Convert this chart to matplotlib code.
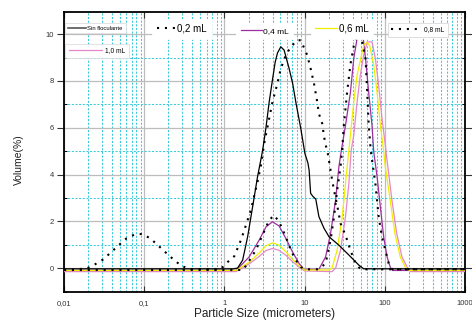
import matplotlib
matplotlib.use("Agg")
import matplotlib.pyplot as plt
from matplotlib.ticker import LogLocator, FixedLocator, FixedFormatter, MultipleLocator, NullFormatter
from matplotlib.lines import Line2D

plt.rcParams['font.family'] = ['Liberation Sans', 'DejaVu Sans']

# particle size distributions (micrometers, volume %)
sin_x = [0.01, 1.3, 1.46, 1.69, 1.95, 2.25, 2.59, 2.99, 3.3, 3.62, 4.0, 4.3, 4.6, 5.06, 5.56,
         6.42, 7.1, 7.78, 8.97, 10.1, 11.0, 11.4, 11.9, 12.6, 13.8, 15.1, 17.5, 20.2, 26.8,
         35.7, 47.5, 54.6, 1000]
sin_y = [-0.03, -0.03, 0.0, 0.34, 1.34, 2.62, 3.9, 5.0, 6.0, 7.1, 8.1, 8.8, 9.2, 9.46, 9.32,
         8.53, 7.9, 7.1, 5.97, 4.9, 4.5, 4.19, 3.2, 3.08, 2.95, 2.2, 1.7, 1.34, 0.98,
         0.56, 0.13, -0.03, -0.03]

ml02_x = [0.01, 0.0191, 0.0243, 0.0308, 0.0384, 0.0482, 0.0601, 0.0762, 0.095, 0.119, 0.148,
          0.185, 0.232, 0.29, 0.367, 0.9, 1.05, 1.33, 1.61, 1.86, 2.14, 2.59, 2.86, 3.14, 3.55,
          3.98, 4.59, 5.06, 5.84, 6.74, 8.1, 8.97, 10.8, 11.9, 13.1, 14.4, 15.1, 16.6, 17.4,
          18.3, 19.2, 22.1, 23.3, 25.5, 28.1, 32.4, 37.3, 43.3, 50, 1000]
ml02_y = [-0.08, -0.02, 0.16, 0.37, 0.67, 0.98, 1.27, 1.44, 1.46, 1.27, 0.98,
          0.67, 0.37, 0.1, -0.04, -0.05, 0.2, 0.51, 1.2, 1.84, 2.48, 3.69, 4.4, 5.33, 6.25,
          7.1, 7.9, 8.53, 9.1, 9.46, 9.74, 9.74, 9.1, 8.53, 7.9, 7.1, 6.6, 6.18, 5.68,
          5.26, 5.04, 3.76, 3.33, 2.69, 1.91, 1.41, 0.77, 0.2, -0.05, -0.05]

ml04_x = [0.01, 1.4, 2.04, 2.72, 3.3, 3.98, 4.82, 5.84, 7.06, 8.55, 9.8, 15.1, 18.3, 21.1,
          24.4, 26.8, 28.8, 32.4, 37.3, 41.1, 45.2, 49.5, 53.4, 57.6, 63.1, 69.4, 72.9, 80.3,
          88.3, 97.3, 107, 117, 125, 1000]
ml04_y = [-0.1, -0.1, 0.48, 1.2, 1.76, 1.98, 1.8, 1.27, 0.7, 0.2, -0.05, -0.05, 0.48, 1.48,
          2.9, 4.33, 5.04, 6.1, 7.5, 8.96, 9.82, 10.03, 9.96, 8.96, 7.5, 6.1, 4.97, 3.9,
          2.6, 1.3, 0.48, 0.05, -0.1, -0.1]

ml06_x = [0.01, 1.4, 2.04, 2.72, 3.3, 3.98, 4.82, 5.84, 7.06, 8.55, 10, 20, 22, 25.5, 29.5,
          32.4, 35.7, 37.3, 41.1, 45.2, 51.3, 55, 60, 65, 72.9, 80.3, 88.3, 97.3, 101.7, 117,
          134, 156, 180, 200, 1000]
ml06_y = [-0.1, -0.1, 0.25, 0.65, 0.95, 1.08, 0.98, 0.7, 0.38, 0.1, -0.08, -0.08, 0.0, 0.77, 2.19,
          3.62, 5.04, 5.68, 7.1, 8.25, 9.1, 9.55, 9.65, 9.5, 8.68, 7.5, 6.1, 4.97, 4.33, 2.9,
          1.48, 0.48, 0.05, -0.1, -0.1]

ml08_x = [0.01, 1.7, 1.95, 2.47, 2.99, 3.62, 4.17, 4.82, 5.84, 6.74, 7.78, 8.97, 10, 15, 18.3,
          21.1, 23.3, 25.5, 28.1, 29.5, 30.9, 33.9, 37.3, 41.1, 45.2, 50, 57.6, 60.5, 63.1, 67,
          76.4, 84, 92.4, 101.7, 112, 125, 1000]
ml08_y = [-0.08, -0.08, 0.2, 0.77, 1.41, 2.05, 2.26, 1.98, 1.34, 0.77, 0.34, 0.05, -0.05, -0.05, 0.2,
          1.2, 2.19, 3.33, 4.33, 5.1, 6.1, 7.5, 8.7, 9.5, 9.9, 10.0, 8.96, 7.5, 6.1, 5.0,
          3.62, 2.19, 1.34, 0.77, 0.2, -0.05, -0.05]

ml10_x = [0.01, 1.4, 2.04, 2.72, 3.3, 3.98, 4.82, 5.84, 7.06, 8.55, 10, 22, 24.4, 28.1, 32.4,
          35.7, 38.2, 41.1, 45.2, 49.6, 54.6, 60.5, 69.4, 76.4, 84, 92.4, 101.7, 107, 123,
          141, 164, 190, 210, 1000]
ml10_y = [-0.15, -0.15, 0.18, 0.5, 0.75, 0.84, 0.76, 0.55, 0.28, 0.05, -0.12, -0.15, 0.0, 0.77, 2.19,
          3.62, 5.04, 5.68, 7.1, 8.25, 9.1, 9.67, 9.67, 8.96, 7.82, 6.4, 5.26, 4.6, 2.9,
          1.48, 0.48, 0.05, -0.15, -0.15]

x_ticks = [0.01, 0.1, 1, 10, 100, 1000]
x_tick_labels = ['0,01', '0,1', '1', '10', '100', '1000']
y_ticks = [0, 2, 4, 6, 8, 10]

BLACK = '#000000'
PURPLE = '#9c2fa0'
YELLOW = '#f0ee00'
PINK = '#e688c8'
CYAN = '#3ccbd9'
GRAY = '#bdbdbd'
DOTS = (0, (1, 2.8))

fig = plt.figure(figsize=(4.72, 3.23), dpi=100)
ax = fig.add_axes([0.1356, 0.0975, 0.8494, 0.8655])

ax.set_xscale('log')
ax.set_xlim(0.01, 1000)
ax.set_ylim(-1.0, 10.95)

# grid: gray majors, cyan dashed minors
ax.xaxis.set_major_locator(FixedLocator(x_ticks))
ax.xaxis.set_major_formatter(FixedFormatter(x_tick_labels))
ax.xaxis.set_minor_locator(LogLocator(base=10, subs=[2, 3, 4, 5, 6, 7, 8, 9]))
ax.xaxis.set_minor_formatter(NullFormatter())
ax.yaxis.set_major_locator(FixedLocator(y_ticks))
ax.yaxis.set_minor_locator(MultipleLocator(1))
ax.grid(which='major', color=GRAY, lw=0.9, ls='-', zorder=0)
ax.grid(which='minor', color=CYAN, lw=0.75, ls=(0, (2, 1.5)), zorder=0)
ax.set_axisbelow(True)

ax.plot(sin_x, sin_y, color=BLACK, lw=0.9, zorder=5)
ax.plot(ml02_x, ml02_y, color=BLACK, lw=1.5, ls=DOTS, zorder=5)
ax.plot(ml04_x, ml04_y, color=PURPLE, lw=0.9, zorder=4)
ax.plot(ml06_x, ml06_y, color=YELLOW, lw=0.9, zorder=4)
ax.plot(ml08_x, ml08_y, color=BLACK, lw=1.5, ls=DOTS, zorder=5)
ax.plot(ml10_x, ml10_y, color=PINK, lw=0.9, zorder=3)

for side in ax.spines.values():
    side.set_linewidth(1.3)

ax.tick_params(axis='x', which='major', direction='in', length=4, width=0.8,
               top=True, labelsize=5.5, pad=6, colors='#333333', labelcolor='#333333')
ax.tick_params(axis='x', which='minor', length=0, top=True)
ax.tick_params(axis='y', which='major', direction='out', length=5, width=0.8,
               labelsize=5.5, pad=2, colors='#333333')
ax.tick_params(axis='y', which='minor', direction='in', length=2.5, width=0.7)
ax.tick_params(axis='y', which='both', right=True)

ax.set_xlabel('Particle Size (micrometers)', fontsize=8.5, labelpad=1, color='#222222')
ax.set_ylabel('Volume(%)', fontsize=7.5, color='#222222')
ax.yaxis.set_label_coords(-0.1, 0.47)


def add_key(line_kw, label, anchor, size, hlen, gap, edge='#d8d8d8'):
    handle = Line2D([], [], **line_kw)
    leg = ax.legend([handle], [label], loc='upper left', bbox_to_anchor=anchor,
                    fontsize=size, handlelength=hlen, handletextpad=gap,
                    borderpad=0.5, borderaxespad=0, frameon=True, fancybox=False,
                    framealpha=1, facecolor='white', edgecolor=edge)
    leg.get_frame().set_linewidth(0.5)
    leg.set_zorder(10)
    ax.add_artist(leg)
    return leg


add_key(dict(color='#555555', lw=1.2), 'Sin floculante', (0.003, 0.962), 4.2, 3.0, 0.3)
add_key(dict(color=PINK, lw=0.9), '1,0 mL', (0.003, 0.885), 4.8, 5.0, 0.5)
add_key(dict(color=BLACK, lw=1.5, ls=DOTS), '0,2 mL', (0.22, 0.975), 7, 1.9, 0.2, edge='white')
add_key(dict(color=PURPLE, lw=0.9), '0,4 mL', (0.43, 0.96), 6, 2.6, 0.15, edge='white')
add_key(dict(color=YELLOW, lw=0.9), '0,6 mL', (0.615, 0.975), 7, 2.2, 0.2, edge='white')
add_key(dict(color=BLACK, lw=1.5, ls=DOTS), '0,8 mL', (0.808, 0.961), 4.8, 4.0, 0.9)

fig.savefig('out.png', dpi=100)
